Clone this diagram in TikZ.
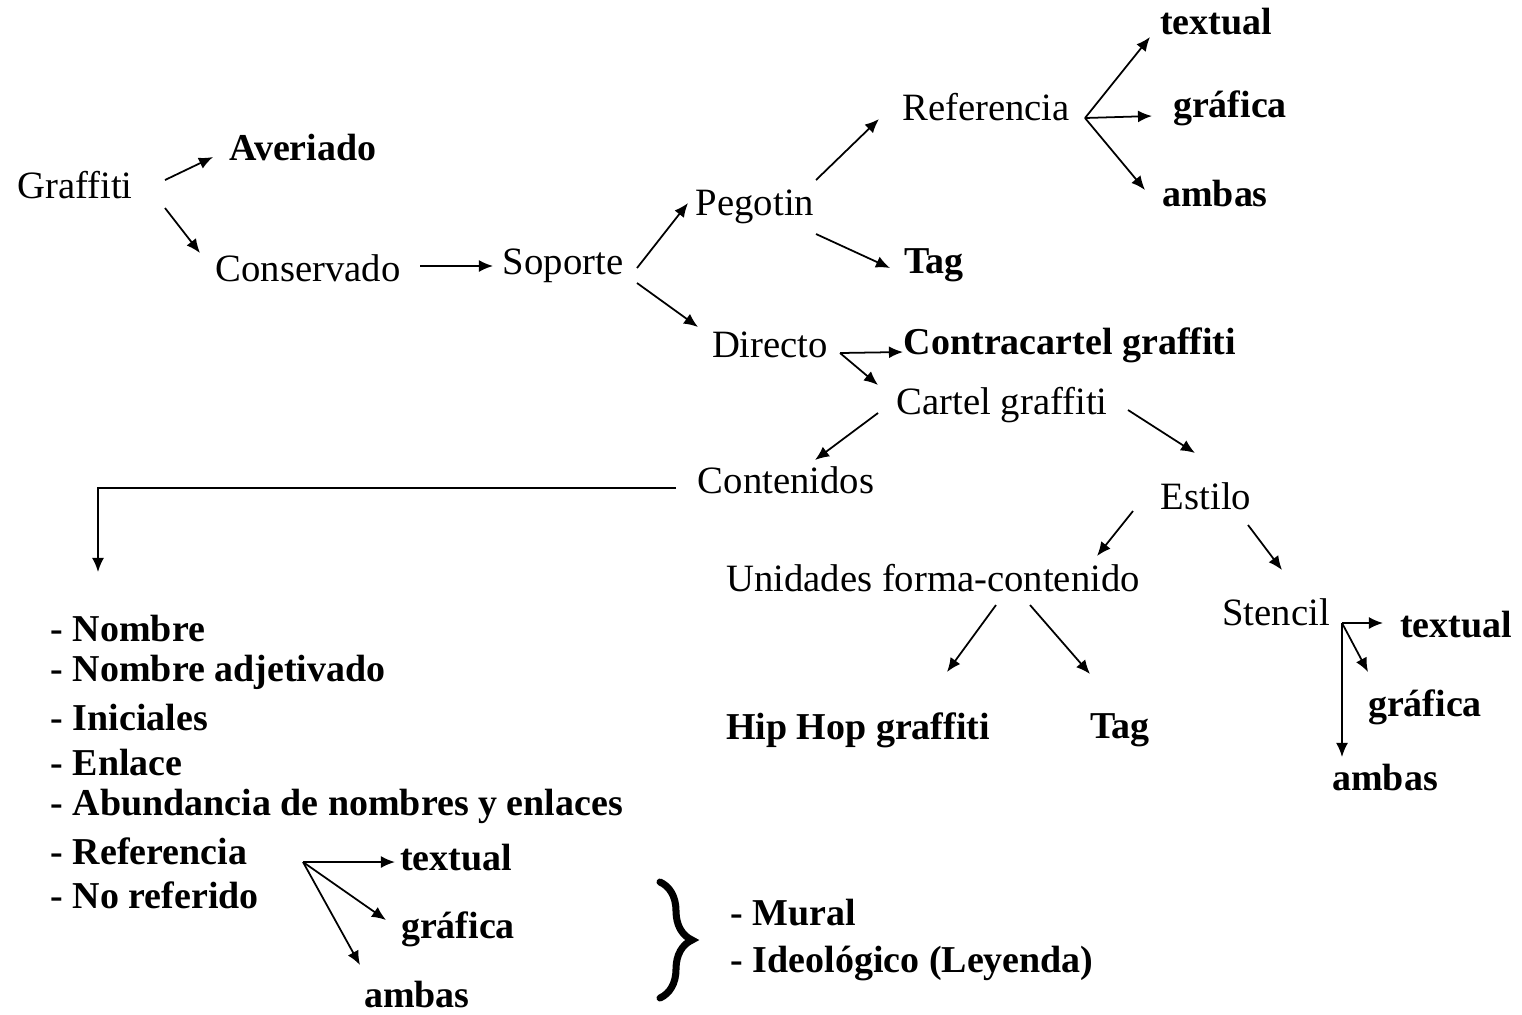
\documentclass[tikz,border=0pt]{standalone}
\usepackage{fontspec}
\setmainfont{Liberation Serif}
\usetikzlibrary{arrows.meta,calc,decorations.pathreplacing}

\begin{document}
\begin{tikzpicture}[x=0.01cm,y=-0.01cm,
  term/.style={inner sep=0pt,font=\fontsize{11}{13}\selectfont},
  leaf/.style={inner sep=0pt,font=\fontsize{10.8}{13}\selectfont\bfseries},
  item/.style={leaf,anchor=west},
  arr/.style={-{Latex[length=4pt,width=3.4pt]},line width=0.5pt},
  curly/.style={decorate,decoration={brace,amplitude=0.32cm,aspect=0.5},
                line width=2pt,line cap=round}]
  \useasboundingbox (0,0) rectangle (1522,1014);

  % upper tree
  \node[term] (graffiti)   at (75,185)  {Graffiti};
  \node[leaf] (averiado)   at (303,147) {Averiado};
  \node[term] (conservado) at (308,268) {Conservado};
  \node[term] (soporte)    at (563,266) {Soporte};
  \node[term] (pegotin)    at (755,207) {Pegotin};
  \node[leaf] (tagA)       at (934,265) {Tag};
  \node[term] (referencia) at (986,107) {Referencia};
  \node[leaf] (textA)      at (1216,22) {textual};
  \node[leaf] (grafA)      at (1230,108) {gráfica};
  \node[leaf] (ambA)       at (1215,193) {ambas};
  \node[term] (directo)    at (770,345) {Directo};
  \node[leaf] (contra)     at (1070,345) {Contracartel graffiti};
  \node[term] (cartel)     at (1002,405) {Cartel graffiti};
  \node[term] (contenidos) at (786,480) {Contenidos};
  \node[term] (estilo)     at (1206,496) {Estilo};
  \node[term] (unidades)   at (933,578) {Unidades forma-contenido};
  \node[term] (stencil)    at (1276,612) {Stencil};
  \node[leaf] (textS)      at (1456,625) {textual};
  \node[leaf] (grafS)      at (1425,707) {gráfica};
  \node[leaf] (ambS)       at (1385,777) {ambas};
  \node[leaf] (hiphop)     at (858,730) {Hip Hop graffiti};
  \node[leaf] (tagB)       at (1120,730) {Tag};

  % contenidos list
  \node[item] (nombre)  at (50,628) {- Nombre};
  \node[item] (adjet)   at (50,672) {- Nombre adjetivado};
  \node[item] (inic)    at (50,717) {- Iniciales};
  \node[item] (enlace)  at (50,762) {- Enlace};
  \node[item] (abund)   at (50,806) {- Abundancia de nombres y enlaces};
  \node[item] (refL)    at (50,851) {- Referencia};
  \node[item] (noref)   at (50,895) {- No referido};
  \node[leaf] (textL)   at (456,858) {textual};
  \node[leaf] (grafL)   at (458,929) {gráfica};
  \node[leaf] (ambL)    at (417,994) {ambas};
  \node[item] (mural)   at (730,913) {- Mural};
  \node[item] (ideo)    at (730,963) {- Ideológico (Leyenda)};

  % brace before mural / ideologico
  \draw[curly] (660,882) -- (660,998);

  % fan points
  \coordinate (refpt) at ($(referencia)+(99,11)$);
  \coordinate (dirpt) at ($(directo)+(70,8)$);
  \coordinate (stpt)  at ($(stencil)+(66,11)$);
  \coordinate (rlpt)  at ($(refL.west)+(253,11)$);

  \draw[arr] ($(graffiti)+(90,-5)$) -- ($(averiado)+(-90,10)$);
  \draw[arr] ($(graffiti)+(90,23)$) -- ($(conservado)+(-108,-15)$);
  \draw[arr] ($(conservado)+(112,-2)$) -- ($(soporte)+(-70,0)$);
  \draw[arr] ($(soporte)+(74,2)$) -- ($(pegotin)+(-67,-4)$);
  \draw[arr] ($(soporte)+(74,17)$) -- ($(directo)+(-72,-18)$);
  \draw[arr] ($(pegotin)+(61,-27)$) -- ($(referencia)+(-107,12)$);
  \draw[arr] ($(pegotin)+(61,27)$) -- ($(tagA)+(-44,3)$);
  \draw[arr] (refpt) -- ($(textA)+(-66,15)$);
  \draw[arr] (refpt) -- ($(grafA)+(-78,8)$);
  \draw[arr] (refpt) -- ($(ambA)+(-70,-3)$);
  \draw[arr] (dirpt) -- ($(contra)+(-167,7)$);
  \draw[arr] (dirpt) -- ($(cartel)+(-124,-20)$);
  \draw[arr] ($(cartel)+(-124,8)$) -- ($(contenidos)+(29,-20)$);
  \draw[arr] ($(cartel)+(126,5)$) -- ($(estilo)+(-11,-43)$);
  \draw[arr] ($(contenidos)+(-110,8)$) -| ($(nombre.west)+(48,-56)$);
  \draw[arr] ($(estilo)+(-73,15)$) -- ($(unidades)+(164,-22)$);
  \draw[arr] ($(estilo)+(42,29)$) -- ($(stencil)+(6,-42)$);
  \draw[arr] ($(unidades)+(63,27)$) -- ($(hiphop)+(89,-58)$);
  \draw[arr] ($(unidades)+(97,27)$) -- ($(tagB)+(-30,-56)$);
  \draw[arr] (stpt) -- ($(textS)+(-73,-2)$);
  \draw[arr] (stpt) -- ($(grafS)+(-57,-35)$);
  \draw[arr] (stpt) -- ($(ambS)+(-43,-20)$);
  \draw[arr] (rlpt) -- ($(textL)+(-61,4)$);
  \draw[arr] (rlpt) -- ($(grafL)+(-72,-9)$);
  \draw[arr] (rlpt) -- ($(ambL)+(-57,-29)$);
\end{tikzpicture}
\end{document}
